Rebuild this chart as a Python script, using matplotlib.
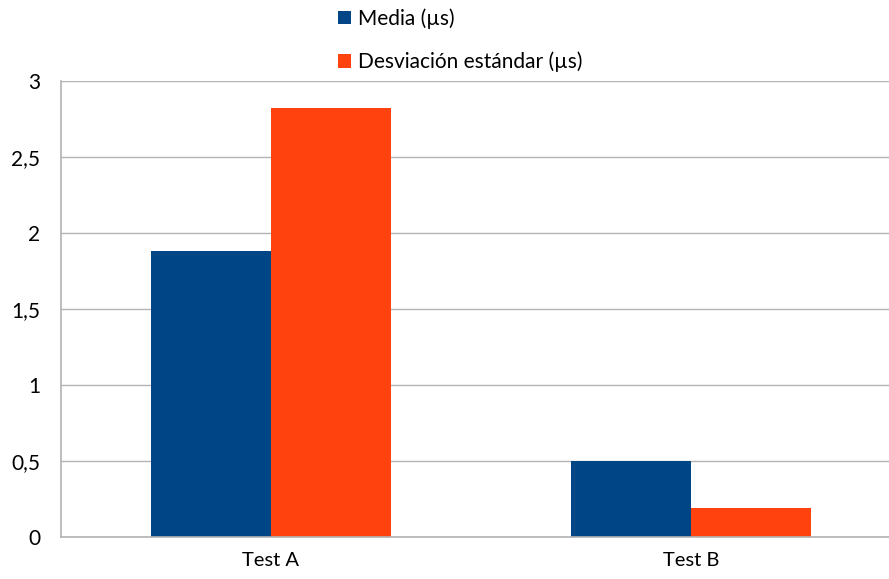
import matplotlib
matplotlib.use('Agg')
import matplotlib.pyplot as plt
import numpy as np

categories = ['Test A', 'Test B']
media = [1.88, 0.50]
desviacion = [2.82, 0.19]
series_labels = ['Media (µs)', 'Desviación estándar (µs)']
y_ticks = [0, 0.5, 1, 1.5, 2, 2.5, 3]
y_tick_labels = ['0', '0,5', '1', '1,5', '2', '2,5', '3']

plt.rcParams['font.family'] = ['Lato', 'DejaVu Sans']

fig = plt.figure(figsize=(8.89, 5.79), dpi=100)
ax = fig.add_axes([61 / 889, 42 / 579, 840 / 889, 456 / 579])

x = np.arange(len(categories))
w = 120 / 420
ax.bar(x - w / 2, media, w, color='#004586', label=series_labels[0], zorder=2)
ax.bar(x + w / 2, desviacion, w, color='#ff420e', label=series_labels[1], zorder=2)

ax.set_xlim(-0.5, 1.5)
ax.set_ylim(0, 3)
ax.set_yticks(y_ticks)
ax.set_yticklabels(y_tick_labels)
ax.set_xticks(x)
ax.set_xticklabels(categories)
ax.tick_params(axis='both', length=0, labelsize=15, colors='black')
ax.tick_params(axis='x', labelsize=14.5, pad=11)
ax.tick_params(axis='y', pad=15)
ax.grid(axis='y', color='#b3b3b3', linewidth=1, zorder=0)

for side in ['top', 'right']:
    ax.spines[side].set_visible(False)
for side in ['left', 'bottom']:
    ax.spines[side].set_color('#b3b3b3')
    ax.spines[side].set_linewidth(1.2)

fig.legend(loc='upper left', bbox_to_anchor=(338 / 889, 1 - 8 / 579), frameon=False,
           fontsize=15, handlelength=0.62, handleheight=0.62, handletextpad=0.34,
           labelspacing=1.1, borderpad=0, borderaxespad=0)

fig.savefig('out.png', dpi=100)
